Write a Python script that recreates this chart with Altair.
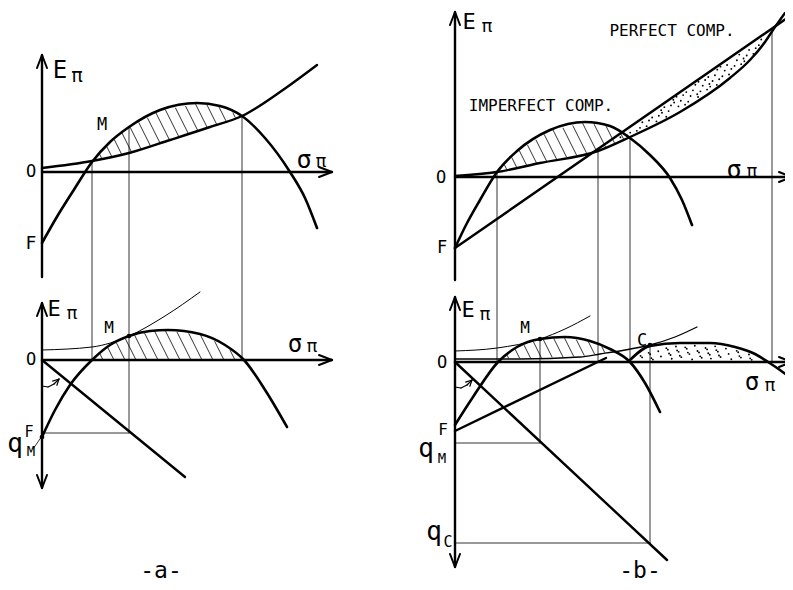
import numpy as np
import pandas as pd
import altair as alt

# ---------------- control points (figure units, y grows downward) -------------
# panel a, top
a_top_exp_x = [42, 92, 129, 170, 210, 242, 280, 317]
a_top_exp_y = [168, 161, 153, 140, 127, 116, 92, 65]
a_top_par_x = [42, 58, 75, 92, 110, 129, 160, 197, 220, 242, 265, 290, 305, 317]
a_top_par_y = [243, 215, 188, 162, 142, 127, 110, 103, 106, 116, 138, 172, 198, 228]
# panel a, bottom
a_bot_exp_x = [42, 92, 129, 165, 200]
a_bot_exp_y = [350, 347, 336, 316, 292]
a_bot_par_x = [42, 55, 70, 92, 110, 129, 150, 168, 200, 225, 244, 267, 287]
a_bot_par_y = [437, 410, 385, 360, 345, 336, 331, 330, 334, 345, 360, 393, 427]
a_bot_oline_x = [42, 185]
a_bot_oline_y = [360, 477]
# panel b, top
b_top_exp_x = [455, 497, 540, 598, 630, 680, 730, 750, 765, 773, 785]
b_top_exp_y = [176, 172, 163, 151, 137, 112, 78, 60, 42, 30, 13]
b_top_par_x = [455, 466, 480, 497, 517, 550, 585, 610, 630, 650, 670, 682, 692]
b_top_par_y = [248, 225, 200, 172, 151, 130, 122, 126, 138, 155, 178, 200, 225]
b_top_line_x = [455, 793]
b_top_line_y = [248, 14]
# panel b, bottom
b_bot_exp1_x = [455, 497, 540, 565, 590]
b_bot_exp1_y = [351, 348, 339, 329, 316]
b_bot_exp2_x = [455, 520, 580, 600, 625, 650, 675, 697]
b_bot_exp2_y = [359, 359, 357, 354, 350, 345, 337, 327]
b_bot_par1_x = [455, 473, 498, 517, 540, 565, 590, 610, 630, 645, 660]
b_bot_par1_y = [425, 397, 362, 347, 339, 337, 341, 349, 362, 383, 412]
b_bot_par2_x = [630, 650, 680, 710, 735, 755, 768, 780, 793]
b_bot_par2_y = [360, 346, 343, 343, 347, 354, 362, 370, 380]
b_bot_line_x = [455, 606]
b_bot_line_y = [431, 358]
b_bot_oline_x = [455, 667]
b_bot_oline_y = [362, 560]

# axes: origin x, axis y, y-extent
axis_a_top = dict(x0=42, y=172, xend=332, ytop=55, ybot=277)
axis_a_bot = dict(x0=42, y=360, xend=332, ytop=303, ybot=488)
axis_b_top = dict(x0=455, y=177, xend=792, ytop=12, ybot=280)
axis_b_bot = dict(x0=455, y=362, xend=792, ytop=297, ybot=567)

# thin construction lines (x, y, x2, y2)
guides = [
    (92, 162, 92, 360), (129, 127, 129, 433), (242, 116, 242, 360),
    (42, 433, 129, 433),
    (497, 172, 497, 362), (598, 151, 598, 362), (630, 138, 630, 362), (772, 29, 772, 362),
    (540, 339, 540, 443), (650, 345, 650, 543),
    (455, 443, 540, 443), (455, 543, 650, 543),
    (33, 449, 42, 436),
]

# labels: text, x, y, size
labels = [
    ("E", 60, 71, 24), ("π", 77, 76, 19), ("σ", 304, 160, 25), ("π", 321, 162, 18),
    ("O", 31, 172, 17), ("F", 31, 244, 18), ("M", 102, 125, 17),
    ("E", 54, 309, 22), ("π", 72, 314, 18), ("M", 109, 328, 16),
    ("σ", 295, 345, 24), ("π", 312, 347, 18), ("O", 31, 360, 17), ("F", 29, 432, 15),
    ("q", 15, 444, 26), ("M", 31, 452, 14),
    ("-a-", 161, 571, 23),
    ("E", 469, 22, 22), ("π", 487, 27, 18),
    ("PERFECT COMP.", 672, 31, 16), ("IMPERFECT COMP.", 541, 106, 16),
    ("O", 441, 178, 17), ("F", 442, 248, 17), ("σ", 734, 170, 25), ("π", 752, 172, 18),
    ("E", 468, 310, 22), ("π", 485, 315, 18), ("M", 525, 328, 16), ("C", 642, 341, 17),
    ("O", 442, 363, 17), ("σ", 752, 383, 24), ("π", 770, 386, 18), ("F", 443, 430, 16),
    ("q", 426, 449, 26), ("M", 442, 459, 14),
    ("q", 434, 532, 26), ("C", 448, 542, 15),
    ("-b-", 640, 571, 23),
]

# tangency / marked points
dots = [(42, 437), (129, 336), (540, 339), (650, 345)]

# ---------------- build tables ----------------
curve_rows = []
def add_curve(name, xs, ys, w):
    for i, (x, y) in enumerate(zip(xs, ys)):
        curve_rows.append(dict(cid=name, i=i, x=x, y=y, w=w))

add_curve("a_top_exp", a_top_exp_x, a_top_exp_y, 2.4)
add_curve("a_top_par", a_top_par_x, a_top_par_y, 2.6)
add_curve("a_bot_exp", a_bot_exp_x, a_bot_exp_y, 1.0)
add_curve("a_bot_par", a_bot_par_x, a_bot_par_y, 2.6)
add_curve("b_top_exp", b_top_exp_x, b_top_exp_y, 2.4)
add_curve("b_top_par", b_top_par_x, b_top_par_y, 2.6)
add_curve("b_bot_exp1", b_bot_exp1_x, b_bot_exp1_y, 1.0)
add_curve("b_bot_exp2", b_bot_exp2_x, b_bot_exp2_y, 1.3)
add_curve("b_bot_par1", b_bot_par1_x, b_bot_par1_y, 2.6)
add_curve("b_bot_par2", b_bot_par2_x, b_bot_par2_y, 2.6)
curves = pd.DataFrame(curve_rows)

seg_rows = []
def add_seg(x, y, x2, y2, w):
    seg_rows.append(dict(x=x, y=y, x2=x2, y2=y2, w=w))

for xs_, ys_ in [(a_bot_oline_x, a_bot_oline_y), (b_top_line_x, b_top_line_y),
                 (b_bot_line_x, b_bot_line_y), (b_bot_oline_x, b_bot_oline_y)]:
    add_seg(xs_[0], ys_[0], xs_[1], ys_[1], 2.4)

def arrow_head(tx, ty, dx, dy, L=13, hw=5, w=2.0):
    # open chevron arrow head at tip (tx,ty) pointing along (dx,dy)
    px, py = -dy, dx
    bx, by = tx - dx * L, ty - dy * L
    add_seg(tx, ty, bx + px * hw, by + py * hw, w)
    add_seg(tx, ty, bx - px * hw, by - py * hw, w)

for ax, both in [(axis_a_top, False), (axis_a_bot, True), (axis_b_top, False), (axis_b_bot, True)]:
    add_seg(ax["x0"], ax["ytop"], ax["x0"], ax["ybot"], 2.4)
    add_seg(ax["x0"], ax["y"], ax["xend"], ax["y"], 2.4)
    arrow_head(ax["x0"], ax["ytop"], 0, -1)
    arrow_head(ax["xend"], ax["y"], 1, 0)
    if both:
        arrow_head(ax["x0"], ax["ybot"], 0, 1)

for g in guides:
    add_seg(*g, 0.8)

# small curved arrows (angle markers)
for (ox, oy) in [(42, 386), (455, 387)]:
    pts = [(ox, oy), (ox + 6, oy + 1), (ox + 12, oy - 2), (ox + 17, oy - 7)]
    for p, q in zip(pts[:-1], pts[1:]):
        add_seg(p[0], p[1], q[0], q[1], 1.2)
    arrow_head(ox + 17, oy - 7, 0.7, -0.7, L=6, hw=3, w=1.2)

# hatching between two boundaries
def hatch(top_x, top_y, bot_x, bot_y, xa, xb, step=11.0, slope=2.0):
    xx = np.linspace(xa, xb, 1500)
    t = np.interp(xx, top_x, top_y)
    b = np.interp(xx, bot_x, bot_y)
    ymin, ymax = t.min(), b.max()
    for c in np.arange(xa - (ymax - ymin) / slope, xb + step, step):
        yy = ymin + slope * (xx - c)
        inside = (yy >= t + 1.0) & (yy <= b - 0.8)
        idx = np.where(inside)[0]
        if len(idx) >= 2:
            add_seg(xx[idx[0]], yy[idx[0]], xx[idx[-1]], yy[idx[-1]], 0.8)

hatch(a_top_par_x, a_top_par_y, a_top_exp_x, a_top_exp_y, 92, 242)
hatch(a_bot_par_x, a_bot_par_y, [42, 332], [360, 360], 92, 244)
hatch(b_top_par_x, b_top_par_y, b_top_exp_x, b_top_exp_y, 497, 630)
hatch(b_bot_par1_x, b_bot_par1_y, b_bot_exp2_x, b_bot_exp2_y, 498, 630)
segs = pd.DataFrame(seg_rows)

# stipple dots between two boundaries (low-discrepancy sequence)
dot_rows = [dict(x=x, y=y, s=22) for x, y in dots]
def stipple(top_x, top_y, bot_x, bot_y, xa, xb, per_dot=30.0):
    xx = np.linspace(xa, xb, 800)
    t = np.interp(xx, top_x, top_y)
    b = np.interp(xx, bot_x, bot_y)
    ymin, ymax = t.min(), b.max()
    n = int((xb - xa) * (ymax - ymin) / per_dot)
    a1, a2 = 0.7548776662466927, 0.5698402909980532
    for i in range(n):
        u = (0.5 + a1 * i) % 1.0
        v = (0.5 + a2 * i) % 1.0
        x = xa + u * (xb - xa)
        y = ymin + v * (ymax - ymin)
        if np.interp(x, top_x, top_y) + 2.0 < y < np.interp(x, bot_x, bot_y) - 2.0:
            dot_rows.append(dict(x=x, y=y, s=3.5))

stipple(b_top_line_x, b_top_line_y, b_top_exp_x, b_top_exp_y, 598, 773)
stipple(b_bot_par2_x, b_bot_par2_y, [630, 793], [362, 362], 630, 768)
pts = pd.DataFrame(dot_rows)

texts = pd.DataFrame(labels, columns=["t", "x", "y", "s"])

# ---------------- chart ----------------
W, H = 777, 574
xsc = alt.Scale(domain=[8, 8 + W], nice=False, zero=False)
ysc = alt.Scale(domain=[8, 8 + H], nice=False, zero=False, reverse=True)
X = lambda f="x": alt.X(f"{f}:Q", scale=xsc, axis=None)
Y = lambda f="y": alt.Y(f"{f}:Q", scale=ysc, axis=None)

line_layer = alt.Chart(curves).mark_line(
    interpolate="monotone", color="black", strokeCap="round", strokeJoin="round"
).encode(
    x=X(), y=Y(), detail="cid:N", order="i:Q",
    strokeWidth=alt.StrokeWidth("w:Q", scale=None),
)

seg_layer = alt.Chart(segs).mark_rule(color="black", strokeCap="round").encode(
    x=X(), y=Y(), x2="x2:Q", y2="y2:Q",
    strokeWidth=alt.StrokeWidth("w:Q", scale=None),
)

pt_layer = alt.Chart(pts).mark_circle(color="black", opacity=1).encode(
    x=X(), y=Y(), size=alt.Size("s:Q", scale=None),
)

txt_layer = alt.Chart(texts).mark_text(
    font="DejaVu Sans Mono", align="center", baseline="middle", color="black"
).encode(
    x=X(), y=Y(), text="t:N", size=alt.Size("s:Q", scale=None),
)

chart = alt.layer(seg_layer, line_layer, pt_layer, txt_layer).properties(
    width=W, height=H, padding=0, autosize="none", background="white"
).configure_view(stroke=None)

chart.save("out.html", embed_options={"renderer": "svg", "actions": False})
